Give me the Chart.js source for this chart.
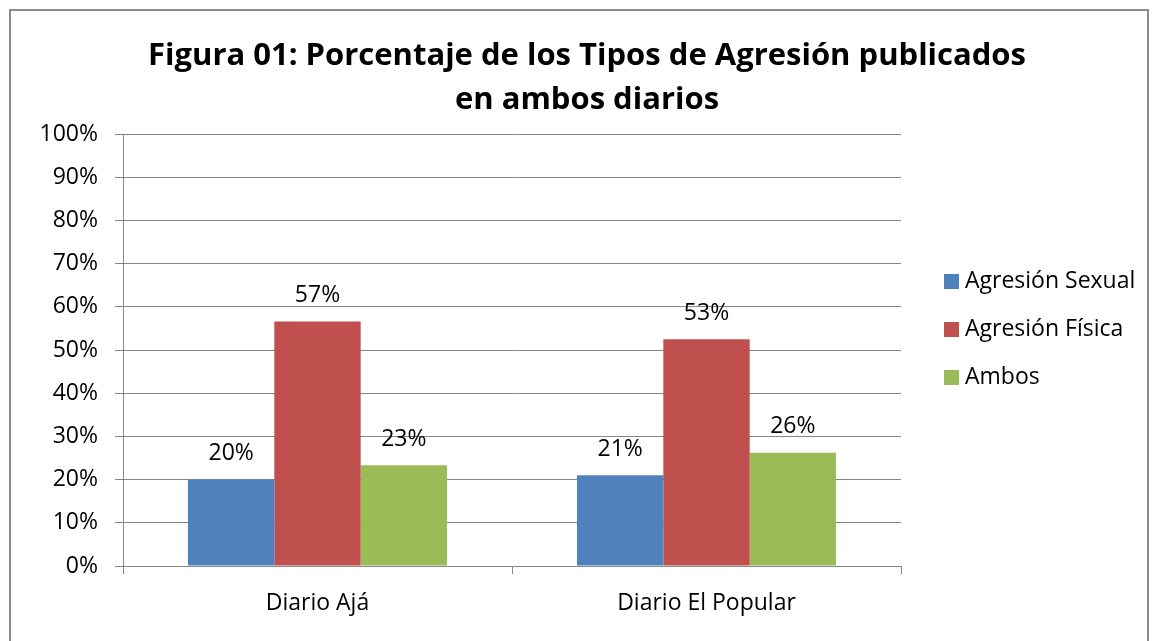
<!DOCTYPE html>
<html>
<head>
<meta charset="utf-8">
<script src="https://cdn.jsdelivr.net/npm/chart.js@4.4.1/dist/chart.umd.min.js"></script>
<style>
  html, body { margin: 0; padding: 0; background: #fff; }
  #wrap { position: relative; width: 1160px; height: 641px; overflow: hidden; }
  #frame { position: absolute; left: 9px; top: 9px; width: 1140px; height: 660px; border: 2px solid #8c8c8c; box-sizing: border-box; }
  canvas { position: absolute; left: 0; top: 0; }
</style>
</head>
<body>
<div id="wrap">
  <div id="frame"></div>
  <canvas id="chart" width="1160" height="641"></canvas>
</div>
<script>
// Datos
const categorias = ['Diario Ajá', 'Diario El Popular'];
const agresionSexual = [20.0, 21.0];
const agresionFisica = [56.6, 52.5];
const ambos = [23.3, 26.2];
const tickLabels = ['0%', '10%', '20%', '30%', '40%', '50%', '60%', '70%', '80%', '90%', '100%'];
const tituloLineas = ['Figura 01: Porcentaje de los Tipos de Agresión publicados', 'en ambos diarios'];

const fuente = '"Open Sans", "Liberation Sans", sans-serif';
const gris = '#868686';
const tam = 23;

// Título dibujado a mano
const tituloPlugin = {
    id: 'tituloPlugin',
    afterDraw(chart) {
        const ctx = chart.ctx;
        ctx.save();
        ctx.font = 'bold 31px ' + fuente;
        ctx.fillStyle = '#000';
        ctx.textAlign = 'center';
        ctx.textBaseline = 'middle';
        ctx.fillText(tituloLineas[0], 587, 56);
        ctx.fillText(tituloLineas[1], 587, 100);
        ctx.restore();
    }
};

// Etiquetas de valor sobre las barras
const valoresPlugin = {
    id: 'valoresPlugin',
    afterDatasetsDraw(chart) {
        const ctx = chart.ctx;
        ctx.save();
        ctx.font = tam + 'px ' + fuente;
        ctx.fillStyle = '#000';
        ctx.textAlign = 'center';
        ctx.textBaseline = 'middle';
        chart.data.datasets.forEach((ds, i) => {
            chart.getDatasetMeta(i).data.forEach((bar, j) => {
                ctx.fillText(Math.round(ds.data[j]) + '%', bar.x, bar.y - 26);
            });
        });
        ctx.restore();
    }
};

// Leyenda a la derecha
const leyendaPlugin = {
    id: 'leyendaPlugin',
    afterDraw(chart) {
        const ctx = chart.ctx;
        ctx.save();
        ctx.font = tam + 'px ' + fuente;
        ctx.textAlign = 'left';
        ctx.textBaseline = 'middle';
        chart.data.datasets.forEach((ds, i) => {
            const y = 281 + i * 48;
            ctx.fillStyle = ds.backgroundColor;
            ctx.fillRect(944, y - 7, 15, 15);
            ctx.fillStyle = '#000';
            ctx.fillText(ds.label, 965, y);
        });
        ctx.restore();
    }
};

const ctx = document.getElementById('chart').getContext('2d');
new Chart(ctx, {
    type: 'bar',
    data: {
        labels: categorias,
        datasets: [
            { label: 'Agresión Sexual', data: agresionSexual, backgroundColor: '#4F81BD' },
            { label: 'Agresión Física', data: agresionFisica, backgroundColor: '#C0504D' },
            { label: 'Ambos', data: ambos, backgroundColor: '#9BBB59' }
        ]
    },
    options: {
        responsive: false,
        animation: false,
        layout: { padding: { top: 134, right: 259, bottom: 15, left: 0 } },
        datasets: {
            bar: { categoryPercentage: 0.666, barPercentage: 1.0 }
        },
        plugins: {
            legend: { display: false },
            title: { display: false },
            tooltip: { enabled: false }
        },
        scales: {
            x: {
                grid: { offset: true, drawOnChartArea: false, drawTicks: true, tickLength: 8, color: gris, lineWidth: 1 },
                border: { color: gris, width: 1 },
                ticks: { color: '#000', font: { family: fuente, size: tam }, padding: 16 },
                afterFit(scale) { scale.height = 60; }
            },
            y: {
                min: 0,
                max: 100,
                grid: { color: gris, lineWidth: 1, tickLength: 8 },
                border: { color: gris, width: 1 },
                ticks: {
                    stepSize: 10,
                    color: '#000',
                    font: { family: fuente, size: tam },
                    padding: 17,
                    callback: (v, i) => tickLabels[i]
                },
                afterFit(scale) { scale.width = 123; }
            }
        }
    },
    plugins: [tituloPlugin, valoresPlugin, leyendaPlugin]
});
</script>
</body>
</html>
